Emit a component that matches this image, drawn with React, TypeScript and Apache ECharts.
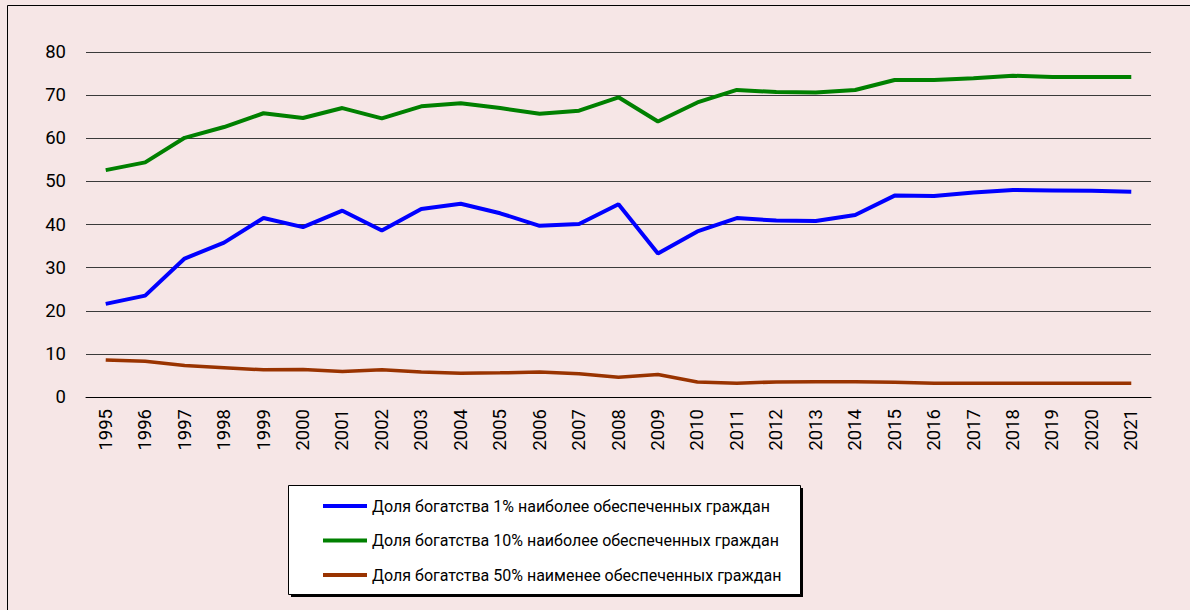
import React, { useEffect, useRef } from "react";
import * as echarts from "echarts";

const years = [
  "1995","1996","1997","1998","1999","2000","2001","2002","2003","2004","2005","2006","2007","2008",
  "2009","2010","2011","2012","2013","2014","2015","2016","2017","2018","2019","2020","2021",
];
const top1 = [21.6, 23.5, 32.1, 35.8, 41.5, 39.4, 43.2, 38.6, 43.6, 44.8, 42.6, 39.7, 40.1, 44.7,
  33.3, 38.4, 41.5, 40.9, 40.8, 42.2, 46.7, 46.6, 47.4, 48.0, 47.9, 47.8, 47.6];
const top10 = [52.6, 54.4, 60.1, 62.6, 65.8, 64.7, 67.0, 64.6, 67.4, 68.1, 67.0, 65.7, 66.4, 69.5,
  63.9, 68.3, 71.2, 70.7, 70.6, 71.2, 73.5, 73.5, 73.9, 74.5, 74.2, 74.2, 74.2];
const bottom50 = [8.6, 8.3, 7.3, 6.8, 6.3, 6.4, 5.9, 6.3, 5.8, 5.5, 5.6, 5.8, 5.4, 4.6,
  5.2, 3.5, 3.2, 3.5, 3.55, 3.55, 3.4, 3.2, 3.2, 3.2, 3.2, 3.2, 3.2];
const yTicks = { min: 0, max: 80, interval: 10 };
const names = [
  "Доля богатства 1% наиболее обеспеченных граждан",
  "Доля богатства 10% наиболее обеспеченных граждан",
  "Доля богатства 50% наименее обеспеченных граждан",
];
const colors = ["#0000FF", "#008000", "#993300"];

export default function App() {
  const ref = useRef<HTMLDivElement>(null);
  useEffect(() => {
    if (!ref.current) return;
    const chart = echarts.init(ref.current, null, { renderer: "svg" });
    const font = "Roboto, sans-serif";
    const data = [top1, top10, bottom50];
    chart.setOption({
      animation: false,
      backgroundColor: "#F6E6E6",
      textStyle: { fontFamily: font },
      grid: { left: 86, right: 39, top: 52, bottom: 213 },
      graphic: [
        { type: "rect", z: 0, shape: { x: 7.5, y: 5.5, width: 1300, height: 700 }, style: { fill: "none", stroke: "#000", lineWidth: 1 } },
        { type: "rect", z: 0, shape: { x: 291, y: 488, width: 512, height: 109 }, style: { fill: "#000" } },
        { type: "rect", z: 0, shape: { x: 288.5, y: 485.5, width: 512, height: 109 }, style: { fill: "#fff", stroke: "#000", lineWidth: 1 } },
      ],
      legend: {
        orient: "vertical",
        left: 323,
        top: 497,
        padding: 0,
        itemGap: 16.5,
        itemWidth: 44,
        itemHeight: 4,
        icon: "rect",
        textStyle: { fontFamily: font, fontSize: 16, color: "#000", lineHeight: 18 },
        data: names,
      },
      xAxis: {
        type: "category",
        data: years,
        boundaryGap: true,
        axisTick: { show: false },
        axisLine: { lineStyle: { color: "#000", width: 1 } },
        axisLabel: { rotate: 90, margin: 12, fontSize: 18.5, color: "#000", fontFamily: font, interval: 0 },
      },
      yAxis: {
        type: "value",
        min: yTicks.min,
        max: yTicks.max,
        interval: yTicks.interval,
        axisLine: { show: false },
        axisTick: { show: false },
        axisLabel: { margin: 20, fontSize: 18.5, color: "#000", fontFamily: font },
        splitLine: { lineStyle: { color: "#3a3a3a", width: 1 } },
      },
      series: names.map((n, i) => ({
        name: n,
        type: "line",
        data: data[i],
        symbol: "none",
        color: colors[i],
        lineStyle: { color: colors[i], width: i === 2 ? 3.5 : 4 },
        itemStyle: { color: colors[i] },
      })),
    });
    return () => chart.dispose();
  }, []);
  return <div ref={ref} style={{ position: "fixed", left: 0, top: 0, width: 1190, height: 610 }} />;
}
